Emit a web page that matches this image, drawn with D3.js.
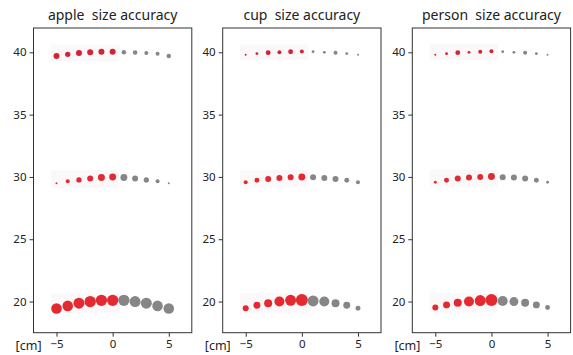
<!DOCTYPE html>
<html lang="en">
<head>
  <meta charset="UTF-8" />
  <title>size accuracy</title>
  <style>
    body { margin: 0; background: #fff; }
    text { font-family: "Noto Sans", sans-serif; fill: #222; }
    .title { font-size: 14px; }
    .tick text { font-size: 11.5px; }
    .frame { fill: none; stroke: #333; stroke-width: 1; }
  </style>
  <script src="https://d3js.org/d3.v7.min.js"></script>
</head>
<body>
  <div id="chart"></div>
  <script>
    // offsets along the measured axis [cm]
    const offsets = [-5, -4, -3, -2, -1, 0, 1, 2, 3, 4, 5];
    const objects = ["apple", "cup", "person"];
    const xTicks = [-5, 0, 5];
    const yTicks = [20, 25, 30, 35, 40];

    // estimated size per offset, one row per true size (40, 30, 20 cm)
    const appleEst40 = [39.70, 39.84, 39.94, 40.00, 40.05, 40.05, 40.00, 39.98, 39.95, 39.88, 39.70];
    const appleEst30 = [29.50, 29.65, 29.76, 29.87, 29.95, 30.00, 29.95, 29.87, 29.76, 29.65, 29.50];
    const appleEst20 = [19.44, 19.65, 19.87, 20.00, 20.10, 20.10, 20.10, 20.00, 19.87, 19.65, 19.44];
    const cupEst40 = [39.80, 39.90, 39.97, 40.00, 40.05, 40.07, 40.05, 40.00, 39.97, 39.90, 39.80];
    const cupEst30 = [29.57, 29.73, 29.84, 29.92, 29.97, 30.00, 29.97, 29.92, 29.84, 29.73, 29.57];
    const cupEst20 = [19.46, 19.70, 19.86, 20.00, 20.10, 20.13, 20.05, 20.00, 19.86, 19.70, 19.46];
    const personEst40 = [39.80, 39.89, 39.97, 40.00, 40.05, 40.08, 40.05, 40.00, 39.97, 39.89, 39.80];
    const personEst30 = [29.57, 29.73, 29.87, 29.95, 30.00, 30.03, 29.98, 29.95, 29.87, 29.73, 29.57];
    const personEst20 = [19.52, 19.73, 19.90, 20.00, 20.08, 20.13, 20.05, 20.00, 19.90, 19.73, 19.52];

    // detection counts (marker area)
    const appleCnt40 = [9, 7, 9, 9, 9, 9, 5, 5, 4, 4, 5];
    const appleCnt30 = [1, 4, 7, 9, 12, 12, 12, 9, 7, 4, 1];
    const appleCnt20 = [28, 28, 30, 32, 32, 32, 32, 30, 30, 28, 28];
    const cupCnt40 = [1, 2, 6, 4, 6, 4, 2, 2, 4, 2, 1];
    const cupCnt30 = [4, 6, 9, 9, 9, 12, 9, 9, 9, 6, 4];
    const cupCnt20 = [9, 12, 16, 25, 30, 36, 30, 25, 16, 12, 6];
    const personCnt40 = [1, 2, 6, 2, 4, 4, 2, 2, 4, 2, 1];
    const personCnt30 = [2, 6, 9, 9, 9, 12, 9, 9, 9, 6, 2];
    const personCnt20 = [9, 12, 16, 25, 30, 36, 25, 20, 16, 12, 6];

    const estimates = {
      apple: [appleEst40, appleEst30, appleEst20],
      cup: [cupEst40, cupEst30, cupEst20],
      person: [personEst40, personEst30, personEst20]
    };
    const counts = {
      apple: [appleCnt40, appleCnt30, appleCnt20],
      cup: [cupCnt40, cupCnt30, cupCnt20],
      person: [personCnt40, personCnt30, personCnt20]
    };

    const W = 573, H = 355;
    const panelLeft = [33.5, 222.7, 412.3];
    const panelW = 158.3, plotTop = 28, plotBottom = 332.7;

    const svg = d3.select("#chart").append("svg")
      .attr("width", W).attr("height", H);

    const y = d3.scaleLinear().domain([17.5, 41.95]).range([plotBottom, plotTop]);
    const r = d3.scaleSqrt().domain([0, 36]).range([0, 6]);

    objects.forEach((name, pi) => {
      const x = d3.scaleLinear().domain([-7.05, 7.05])
        .range([panelLeft[pi], panelLeft[pi] + panelW]);
      const g = svg.append("g");

      g.append("text").attr("class", "title")
        .attr("x", panelLeft[pi] + panelW / 2).attr("y", 20)
        .attr("text-anchor", "middle")
        .text(name + "\u00a0 size accuracy");

      // faint band behind the left half of each row
      estimates[name].forEach(row => {
        const ys = row.slice(0, 6);
        g.append("rect")
          .attr("x", x(-5.5)).attr("width", x(0.6) - x(-5.5))
          .attr("y", y(d3.max(ys)) - 7)
          .attr("height", y(d3.min(ys)) - y(d3.max(ys)) + 12)
          .attr("fill", "#fbf8f9");
      });

      estimates[name].forEach((row, ri) => {
        const pts = offsets.map((o, i) => ({ o, v: row[i], c: counts[name][ri][i] }));
        g.selectAll(null).data(pts).enter().append("circle")
          .attr("cx", d => x(d.o))
          .attr("cy", d => y(d.v))
          .attr("r", d => r(d.c))
          .attr("fill", d => d.o <= 0 ? (ri === 0 ? "#d0182a" : "#e31d26") : "#808080")
          .attr("fill-opacity", 0.95);
      });

      g.append("rect").attr("class", "frame")
        .attr("x", panelLeft[pi]).attr("y", plotTop)
        .attr("width", panelW).attr("height", plotBottom - plotTop);

      g.append("g").attr("transform", `translate(0,${plotBottom})`)
        .call(d3.axisBottom(x).tickValues(xTicks).tickSize(4).tickPadding(3)
          .tickFormat(d => d < 0 ? "\u2212" + Math.abs(d) : d))
        .call(a => a.select(".domain").remove());

      g.append("g").attr("transform", `translate(${panelLeft[pi]},0)`)
        .call(d3.axisLeft(y).tickValues(yTicks).tickSize(4).tickPadding(3))
        .call(a => a.select(".domain").remove());

      g.selectAll(".tick line").attr("stroke", "#333");

      g.append("text")
        .attr("x", x(-5) - 15).attr("y", plotBottom + 17)
        .attr("text-anchor", "end")
        .style("font-size", "12.5px")
        .text("[cm]");
    });
  </script>
</body>
</html>
